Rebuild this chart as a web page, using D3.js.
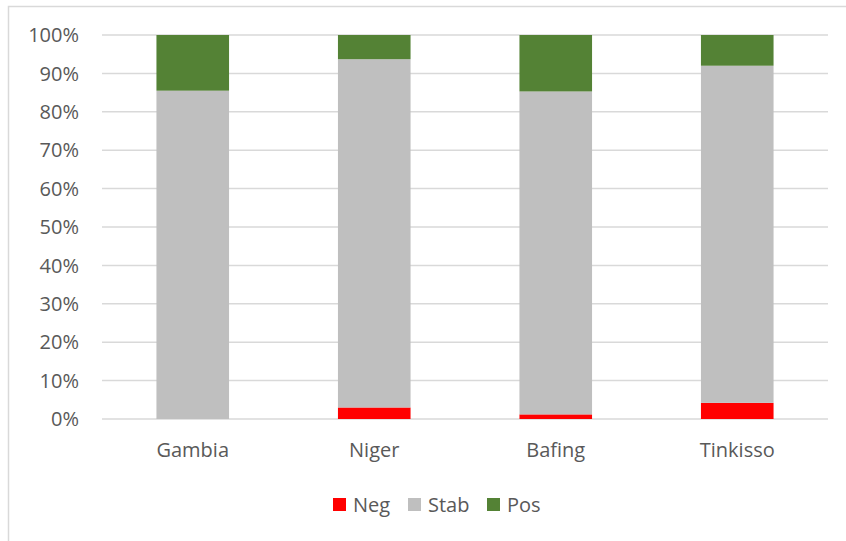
<!DOCTYPE html>
<html>
<head>
<meta charset="utf-8">
<script src="https://cdn.jsdelivr.net/npm/d3@7"></script>
<style>
  body { margin: 0; background: #fff; }
  text { font-family: "Open Sans", Lato, sans-serif; fill: #595959; }
</style>
</head>
<body>
<svg id="chart" width="846" height="541"></svg>
<script>
// basins and their share of each trend class (%)
const categories = ['Gambia', 'Niger', 'Bafing', 'Tinkisso'];
const neg = [0, 3.0, 1.2, 4.2];
const stab = [85.5, 90.7, 84.1, 87.8];
const pos = [14.5, 6.3, 14.7, 8.0];
const seriesNames = ['Neg', 'Stab', 'Pos'];
const colors = ['#FF0000', '#BFBFBF', '#548235'];
const yTicks = [0, 10, 20, 30, 40, 50, 60, 70, 80, 90, 100];

const svg = d3.select('#chart');

// outer chart frame (right and bottom edges fall outside the picture)
svg.append('rect')
    .attr('x', 8.5).attr('y', 6.5)
    .attr('width', 860).attr('height', 560)
    .attr('fill', 'none')
    .attr('stroke', '#D9D9D9')
    .attr('stroke-width', 1.5);

const plotLeft = 102, plotRight = 828, plotTop = 35, plotBottom = 419;

const x = d3.scaleBand()
    .domain(categories)
    .range([plotLeft, plotRight])
    .paddingInner(0.6)
    .paddingOuter(0.3);

const y = d3.scaleLinear().domain([0, 100]).range([plotBottom, plotTop]);

// gridlines
svg.append('g')
    .selectAll('line')
    .data(yTicks)
    .enter()
    .append('line')
    .attr('x1', plotLeft).attr('x2', plotRight)
    .attr('y1', d => y(d)).attr('y2', d => y(d))
    .attr('stroke', '#D9D9D9')
    .attr('stroke-width', 1.5);

// y tick labels
svg.append('g')
    .selectAll('text')
    .data(yTicks)
    .enter()
    .append('text')
    .attr('x', 79)
    .attr('y', d => y(d))
    .attr('dy', '0.36em')
    .attr('text-anchor', 'end')
    .style('font-size', '20px')
    .text(d => d + '%');

// stack the three series
const rows = categories.map((c, i) => ({cat: c, Neg: neg[i], Stab: stab[i], Pos: pos[i]}));
const stacked = d3.stack().keys(seriesNames)(rows);

svg.append('g')
    .selectAll('g')
    .data(stacked)
    .enter()
    .append('g')
    .attr('fill', (d, i) => colors[i])
    .selectAll('rect')
    .data(d => d)
    .enter()
    .append('rect')
    .attr('x', d => x(d.data.cat))
    .attr('width', x.bandwidth())
    .attr('y', d => y(d[1]))
    .attr('height', d => y(d[0]) - y(d[1]));

// category labels
svg.append('g')
    .selectAll('text')
    .data(categories)
    .enter()
    .append('text')
    .attr('x', d => x(d) + x.bandwidth() / 2)
    .attr('y', 457)
    .attr('text-anchor', 'middle')
    .style('font-size', '20px')
    .text(d => d);

// legend
const legendX = [333, 408, 487];
const legend = svg.append('g')
    .selectAll('g')
    .data(seriesNames)
    .enter()
    .append('g')
    .attr('transform', (d, i) => `translate(${legendX[i]}, 498)`);

legend.append('rect')
    .attr('width', 13).attr('height', 13)
    .attr('fill', (d, i) => colors[i]);

legend.append('text')
    .attr('x', 20)
    .attr('y', 6.5)
    .attr('dy', '0.36em')
    .style('font-size', '20px')
    .text(d => d);
</script>
</body>
</html>
